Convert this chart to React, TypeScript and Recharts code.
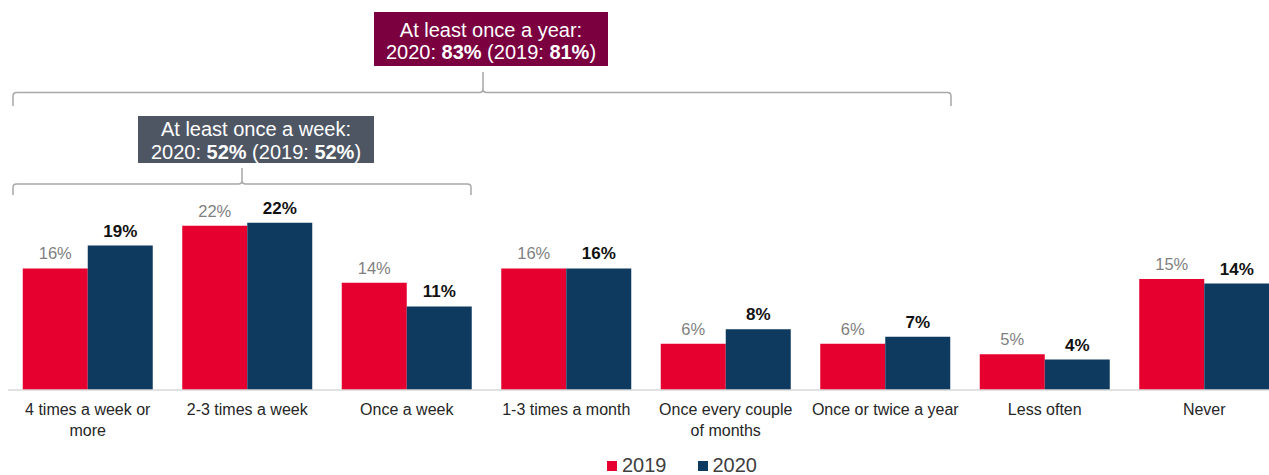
import React from 'react';
import { BarChart, Bar, XAxis, YAxis, Legend, Text } from 'recharts';

const categories = [
    '4 times a week or more',
    '2-3 times a week',
    'Once a week',
    '1-3 times a month',
    'Once every couple of months',
    'Once or twice a year',
    'Less often',
    'Never',
];
const values2019 = [16, 21.6, 14.1, 16, 6.1, 6.1, 4.7, 14.6];
const values2020 = [19, 22, 11, 16, 8, 7, 4, 14];
const seriesNames = ['2019', '2020'];

const data = categories.map((name, i) => ({
    name,
    y2019: values2019[i],
    y2020: values2020[i],
}));

const FONT = '"Liberation Sans", Arial, sans-serif';
const RED = '#E6002F';
const NAVY = '#0E3A5F';
const BRACKET = '#A8A8A8';

const pct = (v: any) => `${Math.round(Number(v))}%`;

const CategoryTick = (props: any) => {
    const { x, y, payload } = props;
    return (
        <Text
            x={x}
            y={y + 6}
            width={150}
            textAnchor="middle"
            verticalAnchor="start"
            lineHeight={21}
            fontSize={16}
            fontFamily={FONT}
            fill="#262626"
            style={{ fontSize: 16, fontFamily: FONT }}
        >
            {payload.value}
        </Text>
    );
};

const LegendContent = () => (
    <div
        style={{
            height: 30,
            boxSizing: 'border-box',
            paddingTop: 10,
            paddingLeft: 607,
            display: 'flex',
            alignItems: 'center',
            fontFamily: FONT,
            fontSize: 20,
            lineHeight: '20px',
            color: '#404040',
        }}
    >
        {seriesNames.map((s, i) => (
            <span key={s} style={{ display: 'flex', alignItems: 'center', marginRight: 31 }}>
                <span style={{ width: 10, height: 10, background: i === 0 ? RED : NAVY, marginRight: 5, marginTop: 2 }} />
                {s}
            </span>
        ))}
    </div>
);

// bracket with rounded ends and a centre tip pointing up to the label box
const bracketPath = (x1: number, x2: number, xm: number, y: number, yEnd: number, yTip: number) => {
    const r = 3.5;
    return [
        `M${x1},${yEnd} L${x1},${y + r} Q${x1},${y} ${x1 + r},${y}`,
        `L${xm - r},${y} Q${xm},${y} ${xm},${y - r} L${xm},${yTip}`,
        `M${xm},${y - r} Q${xm},${y} ${xm + r},${y}`,
        `L${x2 - r},${y} Q${x2},${y} ${x2},${y + r} L${x2},${yEnd}`,
    ].join(' ');
};

const Annotations = () => (
    <svg width={1269} height={210} style={{ position: 'absolute', left: 0, top: 0, pointerEvents: 'none' }}>
        <path d={bracketPath(13, 951, 483, 92.5, 106, 72)} fill="none" stroke={BRACKET} strokeWidth={1.5} />
        <path d={bracketPath(13, 471, 242, 184, 195, 168)} fill="none" stroke={BRACKET} strokeWidth={1.5} />

        <rect x={374} y={12} width={234} height={54} fill="#7A0040" />
        <g fontFamily={FONT} fontSize={20} fill="#fff" textAnchor="middle" dominantBaseline="central">
            <text x={491} y={30}>At least once a year:</text>
            <text x={491} y={52}>
                2020: <tspan fontWeight="bold">83%</tspan> (2019: <tspan fontWeight="bold">81%</tspan>)
            </text>
        </g>

        <rect x={138} y={116} width={236} height={47} fill="#4E5664" />
        <g fontFamily={FONT} fontSize={20} fill="#fff" textAnchor="middle" dominantBaseline="central">
            <text x={256} y={128.5}>At least once a week:</text>
            <text x={256} y={151.5}>
                2020: <tspan fontWeight="bold">52%</tspan> (2019: <tspan fontWeight="bold">52%</tspan>)
            </text>
        </g>
    </svg>
);

const App: React.FC = () => {
    return (
        <div
            style={{
                position: 'absolute',
                left: 0,
                top: 0,
                width: 1269,
                height: 475,
                overflow: 'hidden',
                background: '#fff',
                fontFamily: FONT,
            }}
        >
            <BarChart
                width={1290}
                height={475}
                data={data}
                margin={{ top: 10, right: 6, left: 8, bottom: 0 }}
                barCategoryGap={14.75}
                barGap={0}
            >
                <XAxis
                    dataKey="name"
                    height={55}
                    interval={0}
                    tickLine={false}
                    axisLine={{ stroke: '#D9D9D9', strokeWidth: 1.5 }}
                    tick={<CategoryTick />}
                />
                <YAxis hide width={0} domain={[0, 50]} />
                <Legend verticalAlign="bottom" wrapperStyle={{ left: 0, width: 1269 }} content={<LegendContent />} />
                <Bar
                    dataKey="y2019"
                    name="2019"
                    fill={RED}
                    isAnimationActive={false}
                    label={{ position: 'top', offset: 9, fill: '#7F7F7F', fontSize: 16.5, fontFamily: FONT, formatter: pct }}
                />
                <Bar
                    dataKey="y2020"
                    name="2020"
                    fill={NAVY}
                    isAnimationActive={false}
                    label={{
                        position: 'top',
                        offset: 9,
                        fill: '#111',
                        fontSize: 17,
                        fontWeight: 'bold',
                        fontFamily: FONT,
                        formatter: pct,
                    }}
                />
            </BarChart>
            <Annotations />
        </div>
    );
};

export default App;
